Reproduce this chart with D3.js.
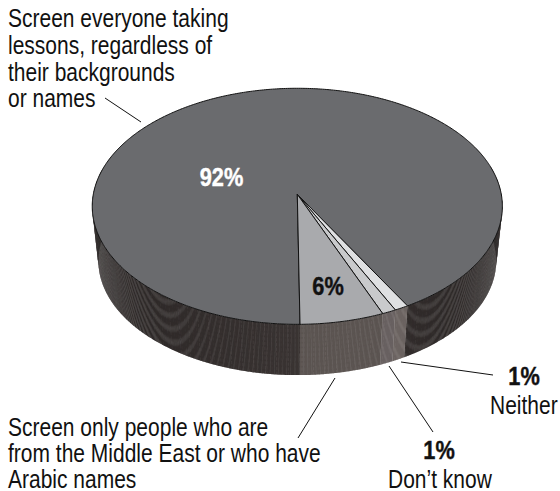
<!DOCTYPE html>
<html>
<head>
<meta charset="utf-8">
<script src="https://cdn.jsdelivr.net/npm/d3@7"></script>
<style>
html,body{margin:0;padding:0;background:#fff}
svg{display:block}
text{font-family:"Liberation Sans",Arial,sans-serif;fill:#111}
</style>
</head>
<body>
<svg id="chart" width="560" height="491"></svg>
<script>
// Survey answers, listed clockwise starting from the front seam
const answers = ["Screen everyone", "Neither", "Don't know", "Screen only"];
const shares = [92, 1, 1, 6];
const faceColors = ["#6a6b6e", "#dfe0e2", "#c9cacc", "#a9aaad"];
const wallColors = ["#393332", "#6b6360", "#686060", "#5b5451"];

// Disc seen in perspective: (0,0) is the pie centre on screen
const centerX = 297.3, centerY = 194.3;
const halfWidth = 204, halfHeight = 116.8, nearness = 0.1017;
const wallDrop = 54.7, wallShrink = 0.97;

const chart = d3.select("#chart");

const pieLayout = d3.pie().sort(null).value(d => d)
  .startAngle(Math.PI - 0.012).endAngle(3 * Math.PI - 0.012);
const slices = pieLayout(shares);

// Screen position of an angle on the upper rim (level 0) or lower rim (level 1)
function rim(angle, level) {
  const v = -Math.cos(angle), u = Math.sin(angle);
  const w = 1 - nearness * v;
  const s = level ? wallShrink : 1;
  return [
    centerX + s * halfWidth * u / w,
    centerY + (level ? wallDrop : 0) + s * halfHeight * v / w
  ];
}

// Wall first, so the top face covers its back half
const wallStrips = [];
slices.forEach((slice, i) => {
  const step = 0.006;
  d3.range(slice.startAngle, slice.endAngle, step).forEach(a => {
    const b = Math.min(a + step * 1.4, slice.endAngle);
    if (Math.cos(a) < 0.25) wallStrips.push({a, b, i});
  });
});
const sideShade = d3.scaleLinear().domain([0, 1]).range([1, 0.72]);
chart.append("g").selectAll("path").data(wallStrips).join("path")
  .attr("d", d => d3.line()([rim(d.a, 0), rim(d.b, 0), rim(d.b, 1), rim(d.a, 1)]) + "Z")
  .attr("fill", d => {
    if (d.i !== 0) return wallColors[d.i];
    const c = d3.color(wallColors[0]);
    const k = sideShade(Math.abs(Math.sin(d.a)));
    return d3.rgb(c.r * k, c.g * k, c.b * k);
  });

// Fine ribs running down the wall; they crowd together toward the sides, so fade there
const ribs = [];
slices.forEach((slice, i) => {
  d3.range(slice.startAngle, slice.endAngle, 0.0105).forEach((a, j) => {
    if (Math.cos(a) < 0.1) ribs.push({a, i, j});
  });
});
chart.append("g").selectAll("line").data(ribs).join("line")
  .attr("x1", d => rim(d.a, 0)[0]).attr("y1", d => rim(d.a, 0)[1])
  .attr("x2", d => rim(d.a, 1)[0]).attr("y2", d => rim(d.a, 1)[1])
  .attr("stroke", d => d.i === 0 ? "#6d6664" : "#8b8380")
  .attr("stroke-width", 0.55)
  .attr("stroke-opacity", d => (d.j % 5 === 0 ? 0.45 : d.j % 2 === 0 ? 0.2 : 0.08) * (1 - 0.75 * Math.abs(Math.sin(d.a))))
  .attr("stroke-dasharray", "3.2 1.6");

// Top face
chart.append("g").selectAll("path").data(slices).join("path")
  .attr("d", d => {
    const rimPoints = d3.range(d.startAngle, d.endAngle, 0.01).concat([d.endAngle]).map(a => rim(a, 0));
    return d3.line()([[centerX, centerY]].concat(rimPoints)) + "Z";
  })
  .attr("fill", (d, i) => faceColors[i])
  .attr("stroke", "#111")
  .attr("stroke-width", 1)
  .attr("stroke-linejoin", "round");

// The type is condensed by squeezing it horizontally around its own origin
const squeeze = 0.84;

// Percent labels
const percentLabels = [
  {x: 221.5, y: 186, i: 0, fill: "#fff"},
  {x: 328, y: 295, i: 3, fill: "#111"},
  {x: 524, y: 385, i: 1, fill: "#111"},
  {x: 439, y: 459, i: 2, fill: "#111"}
];
chart.append("g").selectAll("text").data(percentLabels).join("text")
  .attr("transform", d => `translate(${d.x},${d.y}) scale(0.87,1)`)
  .attr("text-anchor", "middle").attr("font-size", 25).attr("font-weight", "bold")
  .style("fill", d => d.fill)
  .style("stroke", d => d.fill).style("stroke-width", 0.4)
  .text(d => shares[d.i] + "%");

// Captions
const captionLines = [
  {x: 8, y: 27, s: "Screen everyone taking"},
  {x: 8, y: 54, s: "lessons, regardless of"},
  {x: 8, y: 81, s: "their backgrounds"},
  {x: 8, y: 107, s: "or names"},
  {x: 8, y: 436, s: "Screen only people who are"},
  {x: 8, y: 462, s: "from the Middle East or who have"},
  {x: 8, y: 488, s: "Arabic names"},
  {x: 490, y: 414, s: "Neither"},
  {x: 388, y: 488, s: "Don\u2019t know"}
];
chart.append("g").selectAll("text").data(captionLines).join("text")
  .attr("transform", d => `translate(${d.x},${d.y}) scale(${squeeze},1)`)
  .attr("font-size", 25).text(d => d.s);

// Leader lines
const leaders = [
  [105, 98, 141, 122],
  [298, 438, 335, 378],
  [389, 366, 433, 432],
  [401, 362, 493, 375]
];
chart.append("g").selectAll("line").data(leaders).join("line")
  .attr("x1", d => d[0]).attr("y1", d => d[1]).attr("x2", d => d[2]).attr("y2", d => d[3])
  .attr("stroke", "#111").attr("stroke-width", 1);
</script>
</body>
</html>
